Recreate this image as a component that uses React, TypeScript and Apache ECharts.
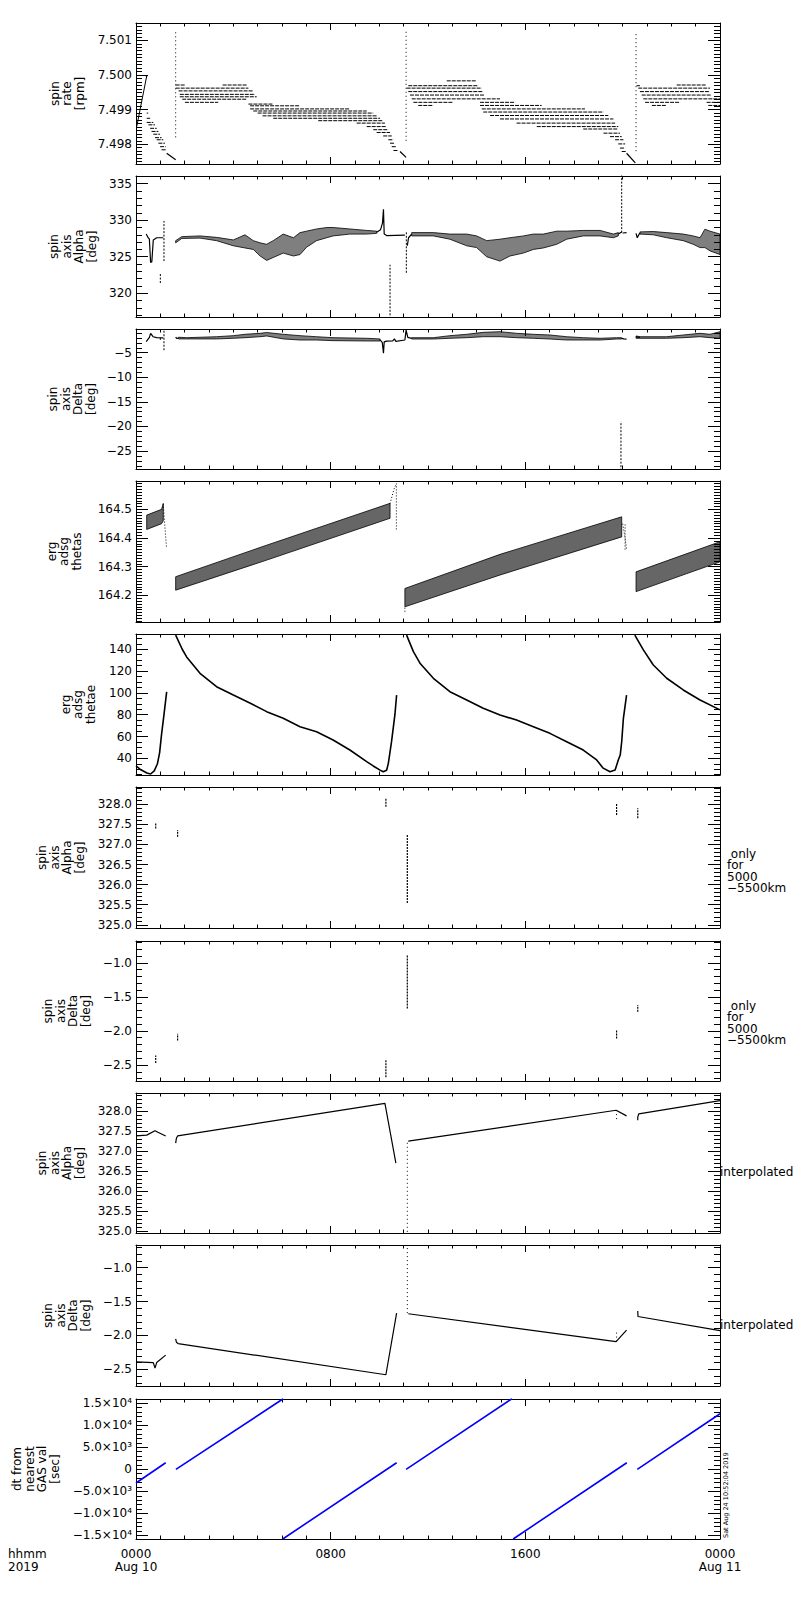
import React, { useEffect, useRef } from 'react';
import * as echarts from 'echarts';

// ---------- axis ticks / labels ----------
const HOUR_TICKS = [0, 8, 16, 24];
const HOUR_LABELS = ['0000\nAug 10', '0800', '1600', '0000\nAug 11'];
const DT_TICKS = [-15000, -10000, -5000, 0, 5000, 10000, 15000];
const DT_LABELS = ['\u22121.5\u00d710\u2074', '\u22121.0\u00d710\u2074', '\u22125.0\u00d710\u00b3', '0', '5.0\u00d710\u00b3', '1.0\u00d710\u2074', '1.5\u00d710\u2074'];

// ---------- panel 1: spin rate [rpm] ----------
const P1_RISE = [[[0.03, 7.49851], [0.44, 7.49997]], [[0.4, 7.49997], [0.46, 7.49997]]];
// quantised rows: [startHour, endHour, value]
const P1_ROWS = [
  [0.44, 0.5, 7.4989], [0.44, 0.58, 7.49875], [0.44, 0.71, 7.49863], [0.51, 0.78, 7.49856], [0.58, 0.85, 7.49846],
  [0.64, 0.92, 7.49837], [0.71, 0.99, 7.49829], [0.78, 1.05, 7.49819], [0.85, 1.12, 7.49813], [0.92, 1.19, 7.49803],
  [0.99, 1.22, 7.49793], [1.05, 1.26, 7.49784],
  [1.63, 2.01, 7.49971], [3.56, 4.55, 7.49971], [1.63, 4.62, 7.49962], [1.75, 4.82, 7.49954], [1.8, 4.89, 7.49944],
  [1.8, 4.96, 7.49937], [1.9, 4.55, 7.4993], [2.01, 3.38, 7.49921],
  [4.62, 5.64, 7.49916], [4.69, 6.74, 7.49911], [4.69, 8.79, 7.49902], [4.82, 9.48, 7.49896], [5.0, 9.75, 7.4989],
  [5.2, 9.89, 7.49882], [5.64, 10.03, 7.49875], [7.49, 10.16, 7.49868], [9.07, 10.23, 7.49861], [9.48, 10.3, 7.49851],
  [9.75, 10.37, 7.49842], [9.89, 10.44, 7.49834], [10.16, 10.51, 7.49824], [10.37, 10.58, 7.49813], [10.44, 10.64, 7.49803],
  [10.51, 10.71, 7.49793], [10.58, 10.78, 7.49782],
  [12.77, 14.0, 7.49983], [11.19, 14.07, 7.49969], [11.12, 14.21, 7.49962], [11.19, 14.27, 7.49952], [11.26, 14.34, 7.49942],
  [11.33, 14.96, 7.49931], [11.4, 13.04, 7.49921], [11.6, 12.22, 7.49912],
  [14.14, 15.58, 7.49921], [14.14, 16.67, 7.49912], [14.21, 18.45, 7.49902], [14.27, 19.21, 7.49893], [14.55, 19.41, 7.49883],
  [14.96, 19.62, 7.49873], [15.64, 19.69, 7.49861], [16.47, 19.82, 7.49851], [18.38, 19.82, 7.49844], [19.21, 19.89, 7.49832],
  [19.48, 19.96, 7.49822], [19.69, 20.03, 7.49813], [19.82, 20.1, 7.49801], [19.89, 20.1, 7.49789], [19.96, 20.16, 7.49779],
  [22.22, 23.45, 7.49971], [20.57, 20.71, 7.49969], [20.64, 23.59, 7.49962], [20.71, 23.59, 7.49952], [20.78, 23.66, 7.49942],
  [20.85, 24, 7.49931], [20.92, 22.36, 7.49921], [23.45, 24, 7.49921], [21.2, 21.81, 7.49912], [23.52, 24, 7.49912],
];
const P1_DIAG = [
  [[1.26, 7.49774], [1.63, 7.49755]],
  [[10.85, 7.49779], [11.1, 7.49762]],
  [[20.16, 7.49774], [20.52, 7.49746]],
];
const P1_SPIKES = [[1.63, 7.4982, 7.5013], [11.1, 7.4981, 7.5013], [20.55, 7.4978, 7.5012]];

// ---------- panel 2: spin axis Alpha [deg] ----------
const P2_LINES = [
  [[0.42, 328.1], [0.5, 327.6], [0.55, 327.4], [0.6, 324.2], [0.65, 324.3], [0.71, 327.3], [0.85, 327.6], [1.12, 327.6]],
  [[9.89, 328.35], [10.05, 328.7], [10.13, 329.6], [10.17, 331.5], [10.2, 328.1], [10.3, 327.9], [11.05, 327.95]],
  [[11.15, 326.5], [11.2, 327.6], [11.33, 328.1]],
  [[19.82, 328.1], [19.96, 328.4]],
  [[20.0, 328.25], [20.16, 328.3]],
  [[20.55, 328.2], [20.6, 327.6], [20.68, 328.1], [20.71, 328.25]],
];
const P2_VLINES = [[1.0, 321.4, 322.8], [1.15, 324.4, 329.9], [10.44, 316.5, 323.9], [11.11, 322.8, 328.5], [19.96, 328.3, 336.5]];
// noisy bands: [hour, low, high]
const P2_BANDS = [
  [[1.63, 326.9, 327.2], [1.88, 327.5, 327.75], [2.63, 327.55, 327.85], [3.31, 327.2, 327.65], [4.0, 326.5, 327.3],
   [4.48, 326.2, 328.0], [4.82, 326.0, 327.2], [5.1, 325.1, 326.9], [5.37, 324.5, 326.7], [5.64, 324.9, 327.2],
   [6.05, 325.5, 328.1], [6.47, 325.1, 327.6], [6.74, 325.3, 328.3], [7.01, 326.3, 328.5], [7.42, 327.2, 328.8],
   [7.84, 327.6, 329.0], [8.1, 327.85, 329.0], [8.79, 328.1, 328.8], [9.48, 328.1, 328.6], [9.89, 328.2, 328.5]],
  [[11.33, 327.85, 328.3], [12.22, 327.85, 328.3], [12.9, 327.4, 328.1], [13.59, 326.5, 328.1], [14.0, 326.25, 327.85],
   [14.41, 325.0, 327.2], [14.96, 324.4, 327.4], [15.37, 325.1, 327.6], [15.92, 325.5, 327.85], [16.33, 326.0, 328.1],
   [16.74, 326.2, 328.1], [17.29, 326.7, 328.5], [17.7, 327.4, 328.5], [18.38, 327.85, 328.6], [19.07, 327.85, 328.6],
   [19.62, 327.6, 328.1], [19.82, 327.85, 328.3]],
  [[20.71, 328.1, 328.4], [21.26, 328.0, 328.45], [21.81, 327.6, 328.3], [22.49, 327.2, 328.1], [22.9, 326.7, 327.85],
   [23.18, 326.25, 327.6], [23.38, 326.25, 328.77], [23.59, 325.8, 328.5], [24.0, 325.3, 328.1]],
];

// ---------- panel 3: spin axis Delta [deg] ----------
const P3_LINES = [
  [[0.42, -2.76], [0.55, -1.9], [0.6, -1.06], [0.7, -1.75], [0.85, -1.95], [1.12, -2.0]],
  [[1.63, -1.8], [1.67, -2.1], [1.75, -2.05]],
  [[10.03, -2.4], [10.12, -2.9], [10.17, -5.1], [10.2, -2.8], [10.3, -2.65], [10.55, -2.6], [10.62, -2.2], [10.68, -2.7],
   [11.05, -2.42], [11.1, -0.4], [11.17, -1.9], [11.33, -2.1]],
  [[19.96, -2.1], [20.05, -2.2], [20.16, -2.25]],
  [[20.55, -1.8], [20.71, -1.9]],
];
const P3_VLINES = [[1.15, -4.5, -0.4], [1.0, -2.4, -2.0], [19.93, -29, -19.0]];
const P3_BANDS = [
  [[1.75, -2.2, -1.85], [2.08, -2.2, -1.95], [3.31, -2.2, -1.75], [4.0, -2.07, -1.54], [4.48, -1.95, -1.26],
   [5.1, -1.75, -1.06], [5.37, -1.6, -0.9], [6.05, -2.2, -1.26], [6.74, -2.42, -1.54], [7.42, -2.42, -1.75],
   [8.1, -2.55, -1.95], [9.48, -2.62, -2.07], [10.03, -2.62, -2.2]],
  [[11.33, -2.22, -1.95], [12.22, -2.22, -1.95], [12.9, -2.07, -1.54], [13.59, -1.95, -1.26], [14.27, -1.75, -0.86],
   [14.96, -1.75, -0.73], [15.64, -1.95, -1.06], [16.33, -2.07, -1.26], [17.01, -2.22, -1.4], [17.7, -2.42, -1.75],
   [18.38, -2.42, -1.95], [19.07, -2.42, -2.07], [19.75, -2.22, -1.95], [19.96, -2.22, -1.95]],
  [[20.55, -2.07, -1.6], [20.71, -2.07, -1.75], [21.81, -2.07, -1.75], [22.49, -1.95, -1.4], [23.18, -1.75, -1.06],
   [23.59, -1.95, -1.26], [24.0, -2.07, -0.73]],
];

// ---------- panel 4: erg adsg thetas ----------
const P4_BANDS = [
  [[0.44, 164.43, 164.48], [1.05, 164.45, 164.5], [1.12, 164.46, 164.52]],
  [[1.63, 164.218, 164.265], [5.37, 164.323, 164.375], [10.44, 164.469, 164.521]],
  [[11.05, 164.16, 164.224], [14.96, 164.271, 164.343], [19.96, 164.404, 164.474]],
  [[20.55, 164.213, 164.282], [24.0, 164.317, 164.387]],
];
const P4_LINES = [
  [[1.12, 164.52], [1.18, 164.45], [1.25, 164.37]],
  [[10.44, 164.52], [10.6, 164.57], [10.7, 164.59]],
  [[20.0, 164.45], [20.1, 164.4], [20.16, 164.36]],
];
const P4_VLINES = [[10.7, 164.43, 164.59], [20.1, 164.36, 164.45], [11.05, 164.143, 164.16]];

// ---------- panel 5: erg adsg thetae ----------
const P5_LINES = [
  [[0.0, 33], [0.2, 29.5], [0.45, 26.5], [0.6, 25.6], [0.75, 28.5], [0.88, 35], [0.97, 45], [1.05, 62], [1.15, 80], [1.26, 101]],
  [[1.63, 153], [1.9, 140], [2.08, 133], [2.63, 118], [3.31, 105.7], [4.0, 98], [4.7, 90.5], [5.37, 82.8], [6.05, 76.7],
   [6.74, 69], [7.42, 64.4], [8.1, 56.8], [8.79, 47.6], [9.48, 36.9], [9.75, 33], [10.03, 29.2], [10.16, 27.7], [10.3, 29],
   [10.37, 35.4], [10.5, 55], [10.64, 80], [10.71, 98]],
  [[11.12, 153], [11.4, 137.8], [11.67, 127.2], [12.22, 113.4], [12.9, 101.1], [13.59, 93.5], [14.27, 85.9], [14.96, 79.7],
   [15.64, 75.1], [16.33, 69], [17.01, 62.9], [17.7, 55.2], [18.38, 47.6], [18.93, 38.5], [19.2, 31], [19.48, 27.7],
   [19.69, 29.2], [19.82, 38.4], [19.9, 43], [19.96, 55.2], [20.03, 76.7], [20.16, 98]],
  [[20.5, 153], [20.85, 139.4], [21.26, 125.6], [21.81, 113.4], [22.49, 102.7], [23.18, 93.5], [24.0, 84.4]],
];

// ---------- panels 6, 7: only for 5000-5500 km ----------
const P6_VLINES = [[0.81, 327.4, 327.53], [1.71, 327.19, 327.36], [10.27, 327.94, 328.15], [11.15, 325.54, 327.24], [19.75, 327.73, 328.02], [20.62, 327.65, 327.9]];
const P7_VLINES = [[0.81, -2.47, -2.36], [1.71, -2.14, -2.04], [10.27, -2.68, -2.43], [11.15, -1.67, -0.89], [19.75, -2.11, -1.99], [20.62, -1.72, -1.62]];

// ---------- panels 8, 9: interpolated ----------
const P8_LINES = [
  [[0.0, 327.38], [0.44, 327.4], [0.78, 327.51], [0.9, 327.47], [1.22, 327.38]],
  [[1.63, 327.2], [1.66, 327.32], [1.71, 327.38], [10.23, 328.19], [10.68, 326.7]],
  [[11.19, 327.25], [19.73, 328.02], [20.16, 327.88]],
  [[20.62, 327.77], [20.62, 327.85], [20.66, 327.93], [24.0, 328.26]],
];
const P8_VLINES = [[11.15, 324.99, 327.23], [19.75, 327.8, 328.05]];
const P9_LINES = [
  [[0.0, -2.39], [0.71, -2.4], [0.78, -2.48], [0.85, -2.4], [1.22, -2.29]],
  [[1.63, -2.05], [1.66, -2.1], [1.73, -2.12], [10.27, -2.58], [10.71, -1.67]],
  [[11.19, -1.68], [19.73, -2.09], [20.16, -1.92]],
  [[20.62, -1.64], [20.63, -1.72], [24.0, -1.93]],
];
const P9_VLINES = [[11.15, -1.67, -0.69], [19.75, -2.09, -1.95]];

// ---------- panel 10: dt from nearest GAS val [sec] ----------
const DT_SEGMENTS = [
  [[0.0, -3100], [1.22, 1500]],
  [[1.64, 0], [6.05, 16000]],
  [[6.03, -15800], [10.71, 1500]],
  [[11.1, 0], [15.45, 16000]],
  [[15.5, -15800], [20.17, 1500]],
  [[20.6, 0], [24.0, 12600]],
];

const FONT = "'DejaVu Sans', sans-serif";
const minusFmt = (d: number) => (v: number) => (v < 0 ? '\u2212' : '') + Math.abs(v).toFixed(d);

// split: splitNumber giving the major step; sub: minor intervals per major interval
const PANELS = [
  { top: 23, h: 141, min: 7.49743, max: 7.5015, majors: [7.498, 7.499, 7.5, 7.501], split: 5, sub: 10, fmt: minusFmt(3), name: 'spin\nrate\n[rpm]', gap: 50 },
  { top: 176, h: 141, min: 316.75, max: 336.05, majors: [320, 325, 330, 335], split: 4, sub: 5, fmt: minusFmt(0), name: 'spin\naxis\nAlpha\n[deg]', gap: 38 },
  { top: 329, h: 140, min: -28.66, max: -0.18, majors: [-25, -20, -15, -10, -5], split: 5, sub: 5, fmt: minusFmt(0), name: 'spin\naxis\nDelta\n[deg]', gap: 39 },
  { top: 481, h: 141, min: 164.107, max: 164.599, majors: [164.2, 164.3, 164.4, 164.5], split: 5, sub: 10, fmt: minusFmt(1), name: 'erg\nadsg\nthetas', gap: 53 },
  { top: 634, h: 141, min: 24.7, max: 154, majors: [40, 60, 80, 100, 120, 140], split: 6, sub: 4, fmt: minusFmt(0), name: 'erg\nadsg\nthetae', gap: 39 },
  { top: 787, h: 141, min: 324.92, max: 328.43, majors: [325, 325.5, 326, 326.5, 327, 327.5, 328], split: 7, sub: 5, fmt: minusFmt(1), name: 'spin\naxis\nAlpha\n[deg]', gap: 50 },
  { top: 941, h: 140, min: -2.735, max: -0.68, majors: [-2.5, -2, -1.5, -1], split: 5, sub: 5, fmt: minusFmt(1), name: 'spin\naxis\nDelta\n[deg]', gap: 44 },
  { top: 1093, h: 140, min: 324.96, max: 328.45, majors: [325, 325.5, 326, 326.5, 327, 327.5, 328], split: 7, sub: 5, fmt: minusFmt(1), name: 'spin\naxis\nAlpha\n[deg]', gap: 50 },
  { top: 1245, h: 141, min: -2.746, max: -0.665, majors: [-2.5, -2, -1.5, -1], split: 5, sub: 5, fmt: minusFmt(1), name: 'spin\naxis\nDelta\n[deg]', gap: 44 },
  { top: 1399, h: 140, min: -15800, max: 15950, majors: DT_TICKS, split: 5, sub: 5,
    fmt: (v: number) => { let b = 0; DT_TICKS.forEach((t, k) => { if (Math.abs(t - v) < Math.abs(DT_TICKS[b] - v)) b = k; }); return DT_LABELS[b]; },
    name: 'dt from\nnearest\nGAS val\n[sec]', gap: 75 },
];

function polyData(polys: number[][][]) {
  const d: any[] = [];
  polys.forEach((p) => {
    p.forEach((pt) => d.push([pt[0], pt[1]]));
    d.push([p[p.length - 1][0], null]);
  });
  return d;
}
const rowsToPolys = (rows: number[][]) => rows.map(([a, b, v]) => [[a, v], [b, v]]);
const vToPolys = (vl: number[][]) => vl.map(([h, a, b]) => [[h, a], [h, b]]);

function lineS(i: number, polys: number[][][], style: any) {
  return {
    type: 'line', xAxisIndex: 2 * i, yAxisIndex: 2 * i, data: polyData(polys),
    showSymbol: false, symbol: 'none', silent: true, clip: true, connectNulls: false,
    lineStyle: { color: '#000', width: 1, ...style }, z: 3,
  };
}

function bandS(i: number, band: number[][], fill: string) {
  return {
    type: 'custom', xAxisIndex: 2 * i, yAxisIndex: 2 * i, silent: true, clip: true,
    data: [[band[0][0], band[0][1]]],
    renderItem: (_p: any, api: any) => {
      const up = band.map((p) => api.coord([p[0], p[2]]));
      const lo = band.slice().reverse().map((p) => api.coord([p[0], p[1]]));
      return { type: 'polygon', shape: { points: up.concat(lo) }, style: { fill, stroke: '#000', lineWidth: 0.8 } };
    },
    z: 2,
  };
}

const txt = (x: number, y: number, text: string, extra: any = {}) => ({
  type: 'text', x, y, silent: true,
  style: { text, fill: '#000', fontFamily: FONT, fontSize: 12, lineHeight: 11.5, align: 'left', verticalAlign: 'top', ...extra },
});

function buildOption() {
  const grid: any[] = [];
  const xAxis: any[] = [];
  const yAxis: any[] = [];
  const series: any[] = [];
  const black = { color: '#000', width: 1 };
  const N = PANELS.length;
  PANELS.forEach((P, i) => {
    grid.push({ left: 136, width: 584, top: P.top, height: P.h, outerBoundsMode: 'none' });
    const xBase = {
      type: 'value', gridIndex: i, min: 0, max: 24, interval: 8,
      axisLine: { show: true, onZero: false, lineStyle: black },
      axisTick: { show: true, inside: true, length: 7, lineStyle: black },
      minorTick: { show: true, splitNumber: 8, length: 3.5, lineStyle: black },
      splitLine: { show: false }, minorSplitLine: { show: false },
    };
    xAxis.push({
      ...xBase, position: 'bottom',
      axisLabel: {
        show: i === N - 1, margin: 8, color: '#000', fontFamily: FONT, fontSize: 12, lineHeight: 13,
        showMinLabel: true, showMaxLabel: true,
        formatter: (v: number) => { const k = HOUR_TICKS.indexOf(Math.round(v)); return k >= 0 ? HOUR_LABELS[k] : ''; },
      },
    });
    xAxis.push({ ...xBase, position: 'top', axisLabel: { show: false } });
    const majors = P.majors.filter((v) => v >= P.min && v <= P.max);
    const yBase = {
      type: 'value', gridIndex: i, min: P.min, max: P.max, splitNumber: P.split,
      splitLine: { show: false }, minorSplitLine: { show: false },
      minorTick: { show: true, splitNumber: P.sub, length: 6, lineStyle: black },
    };
    yAxis.push({
      ...yBase, position: 'left',
      axisLine: { show: true, onZero: false, lineStyle: black },
      axisTick: { show: true, inside: true, length: 12, customValues: majors, lineStyle: black },
      axisLabel: { show: true, customValues: majors, formatter: P.fmt, margin: 4, color: '#000', fontFamily: FONT, fontSize: 12 },
      name: P.name, nameLocation: 'middle', nameRotate: 90, nameGap: P.gap, nameMoveOverlap: false,
      nameTextStyle: { color: '#000', fontFamily: FONT, fontSize: 12, lineHeight: 12.5, align: 'center' },
    });
    yAxis.push({
      ...yBase, position: 'right',
      axisLine: { show: true, onZero: false, lineStyle: black },
      axisTick: { show: true, inside: true, length: 12, customValues: majors, lineStyle: black },
      axisLabel: { show: false },
    });
  });

  // panel 1
  series.push(lineS(0, P1_RISE, { width: 1 }));
  series.push(lineS(0, rowsToPolys(P1_ROWS), { width: 1, type: [4, 1] }));
  series.push(lineS(0, P1_DIAG, { width: 1.2 }));
  series.push(lineS(0, vToPolys(P1_SPIKES), { width: 1, type: [1, 3] }));
  // panel 2
  const bandFill = 'rgba(0,0,0,0.5)';
  P2_BANDS.forEach((b) => series.push(bandS(1, b, bandFill)));
  series.push(lineS(1, P2_LINES, { width: 1.2 }));
  series.push(lineS(1, vToPolys(P2_VLINES), { width: 1, type: [2, 1.5] }));
  // panel 3
  P3_BANDS.forEach((b) => series.push(bandS(2, b, bandFill)));
  series.push(lineS(2, P3_LINES, { width: 1.2 }));
  series.push(lineS(2, vToPolys(P3_VLINES), { width: 1, type: [2, 1.5] }));
  // panel 4
  P4_BANDS.forEach((b) => series.push(bandS(3, b, 'rgba(0,0,0,0.6)')));
  series.push(lineS(3, P4_LINES, { width: 1, type: [1, 2] }));
  series.push(lineS(3, vToPolys(P4_VLINES), { width: 1, type: [1, 2] }));
  // panel 5
  series.push(lineS(4, P5_LINES, { width: 1.6 }));
  // panel 6, 7
  series.push(lineS(5, vToPolys(P6_VLINES), { width: 1.2, type: [2, 1] }));
  series.push(lineS(6, vToPolys(P7_VLINES), { width: 1.2, type: [2, 1] }));
  // panel 8, 9
  series.push(lineS(7, P8_LINES, { width: 1.2 }));
  series.push(lineS(7, vToPolys(P8_VLINES), { width: 1, type: [1, 3] }));
  series.push(lineS(8, P9_LINES, { width: 1.2 }));
  series.push(lineS(8, vToPolys(P9_VLINES), { width: 1, type: [1, 3] }));
  // panel 10
  series.push(lineS(9, DT_SEGMENTS, { width: 1.6, color: '#0000ff' }));

  const graphic = [
    txt(8, 1547, 'hhmm\n2019', { lineHeight: 13 }),
    txt(727, 848, ' only\nfor\n5000\n\u22125500km'),
    txt(727, 1000, ' only\nfor\n5000\n\u22125500km'),
    txt(720, 1172, 'interpolated', { verticalAlign: 'middle' }),
    txt(720, 1325, 'interpolated', { verticalAlign: 'middle' }),
    { type: 'text', x: 725.5, y: 1538, rotation: Math.PI / 2, silent: true,
      style: { text: 'Sat Aug 24 10:52:04 2019', fill: '#000', fontFamily: FONT, fontSize: 6.5, align: 'left', verticalAlign: 'middle' } },
  ];

  return { animation: false, backgroundColor: '#fff', grid, xAxis, yAxis, series, graphic };
}

export default function App() {
  const ref = useRef<HTMLDivElement>(null);
  useEffect(() => {
    document.body.style.margin = '0';
    const chart = echarts.init(ref.current as HTMLDivElement, undefined, { renderer: 'svg' });
    chart.setOption(buildOption() as any);
    return () => chart.dispose();
  }, []);
  return <div ref={ref} style={{ width: 800, height: 1600 }} />;
}
